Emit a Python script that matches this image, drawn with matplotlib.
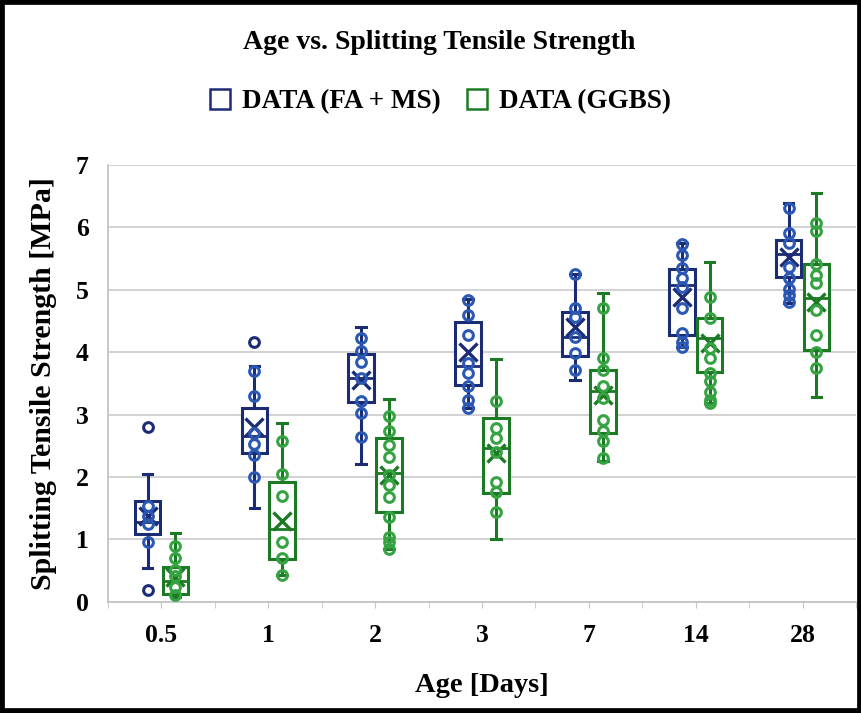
import matplotlib
matplotlib.use("Agg")
import matplotlib.pyplot as plt
from matplotlib.lines import Line2D
from matplotlib.patches import Rectangle

plt.rcParams['font.family'] = ['Liberation Serif', 'DejaVu Serif']
plt.rcParams['font.weight'] = 'bold'

ages = ['0.5', '1', '2', '3', '7', '14', '28']

# FA + MS
fa_q1 = [1.08, 2.38, 3.20, 3.48, 3.94, 4.27, 5.21]
fa_med = [1.28, 2.65, 3.59, 3.77, 4.24, 5.08, 5.57]
fa_q3 = [1.61, 3.10, 3.97, 4.49, 4.64, 5.34, 5.79]
fa_lo = [0.54, 1.50, 2.20, 3.10, 3.56, 4.09, 4.78]
fa_hi = [2.05, 3.77, 4.41, 4.85, 5.25, 5.75, 6.39]
fa_mean = [1.38, 2.80, 3.55, 4.01, 4.41, 4.89, 5.53]
fa_points = [
    [1.54, 1.38, 1.24, 0.95],
    [3.70, 3.30, 2.70, 2.52, 2.35, 2.00],
    [4.22, 4.02, 3.85, 3.59, 3.21, 3.02, 2.64],
    [4.83, 4.60, 4.28, 3.82, 3.66, 3.45, 3.23, 3.10],
    [5.25, 4.71, 4.57, 4.25, 3.99, 3.72],
    [5.73, 5.55, 5.35, 5.19, 5.05, 4.71, 4.31, 4.17, 4.09],
    [6.31, 5.91, 5.75, 5.37, 5.19, 5.02, 4.92, 4.81],
]
fa_out = [[2.80, 0.19], [4.17], [], [], [], [], []]

# GGBS
gg_q1 = [0.13, 0.68, 1.44, 1.74, 2.70, 3.68, 4.03]
gg_med = [0.33, 1.16, 2.06, 2.46, 3.37, 4.22, 4.86]
gg_q3 = [0.55, 1.92, 2.62, 2.95, 3.72, 4.55, 5.41]
gg_lo = [0.08, 0.43, 0.85, 1.00, 2.25, 3.18, 3.28]
gg_hi = [1.10, 2.86, 3.25, 3.89, 4.95, 5.45, 6.55]
gg_mean = [0.40, 1.30, 2.03, 2.38, 3.31, 4.14, 4.81]
gg_points = [
    [0.89, 0.70, 0.51, 0.41, 0.24, 0.10],
    [2.57, 2.05, 1.70, 0.95, 0.70, 0.43],
    [2.97, 2.73, 2.51, 2.32, 2.03, 1.87, 1.68, 1.36, 1.04, 0.96, 0.85],
    [3.21, 2.78, 2.62, 2.40, 1.92, 1.76, 1.44],
    [4.71, 3.91, 3.72, 3.45, 3.26, 2.92, 2.73, 2.57, 2.30],
    [4.89, 4.54, 4.06, 3.90, 3.66, 3.53, 3.36, 3.23, 3.18],
    [6.07, 5.94, 5.41, 5.24, 5.11, 4.68, 4.27, 4.00, 3.74],
]
gg_out = [[], [], [], [], [], [], []]

navy = '#1C2C74'
navy_pt = '#2A58B2'
green = '#1D7A24'
green_pt = '#36A342'


def make_stats(q1, med, q3, lo, hi, mean, out):
    stats = []
    for i in range(len(q1)):
        stats.append({'q1': q1[i], 'med': med[i], 'q3': q3[i],
                      'whislo': lo[i], 'whishi': hi[i], 'mean': mean[i],
                      'fliers': out[i]})
    return stats


fig = plt.figure(figsize=(8.62, 7.13), dpi=100)
ax = fig.add_axes([0.1253, 0.1561, 0.8677, 0.6125])

series = [
    (make_stats(fa_q1, fa_med, fa_q3, fa_lo, fa_hi, fa_mean, fa_out), fa_points, navy, navy_pt, -0.13),
    (make_stats(gg_q1, gg_med, gg_q3, gg_lo, gg_hi, gg_mean, gg_out), gg_points, green, green_pt, 0.13),
]

for stats, points, col, pcol, off in series:
    pos = [i + off for i in range(len(ages))]
    ax.bxp(stats, positions=pos, widths=0.24, patch_artist=True,
           showmeans=True, manage_ticks=False, capwidths=0.09,
           boxprops=dict(facecolor='white', edgecolor=col, linewidth=2.2),
           whiskerprops=dict(color=col, linewidth=2.2),
           capprops=dict(color=col, linewidth=2.2),
           medianprops=dict(color=col, linewidth=2.0),
           meanprops=dict(marker='x', markeredgecolor=col, markersize=13,
                          markeredgewidth=2.4),
           flierprops=dict(marker='o', markerfacecolor='none', markeredgecolor=col,
                           markersize=7, markeredgewidth=2.2),
           zorder=3)
    for i, vals in enumerate(points):
        ax.plot([pos[i]] * len(vals), vals, ls='none', marker='o', mfc='none',
                mec=pcol, ms=7, mew=2.2, zorder=4)

ax.set_xlim(-0.5, 6.5)
ax.set_ylim(0, 7)
ax.set_yticks(range(0, 8))
ax.set_xticks(range(len(ages)))
ax.set_xticklabels(ages)
ax.set_xticks([i - 0.5 for i in range(len(ages) + 1)], minor=True)
ax.yaxis.grid(True, color='#CFCFCF', linewidth=1.3, zorder=0)
ax.set_axisbelow(True)
for s in ['top', 'right']:
    ax.spines[s].set_visible(False)
for s in ['left', 'bottom']:
    ax.spines[s].set_color('#C4C4C4')
    ax.spines[s].set_linewidth(1.3)
ax.tick_params(axis='y', length=0, pad=14, labelsize=18.5)
ax.tick_params(axis='x', which='major', length=4, color='#C4C4C4', pad=12, labelsize=18.5)
ax.tick_params(axis='x', which='minor', length=4, color='#C4C4C4')

fig.text(0.51, 0.940, 'Age vs. Splitting Tensile Strength', ha='center', va='center',
         fontsize=20, fontweight='bold')
fig.text(0.05, 0.5 * (0.1561 + 0.7686), 'Splitting Tensile Strength [MPa]', rotation=90,
         ha='center', va='center', fontsize=21.5, fontweight='bold')
fig.text(0.559, 0.038, 'Age [Days]', ha='center', va='center', fontsize=20.5, fontweight='bold')

handles = [Line2D([], [], ls='none', marker='s', mfc='none', mec=navy, ms=15, mew=1.8),
           Line2D([], [], ls='none', marker='s', mfc='none', mec=green, ms=15, mew=1.8)]
fig.legend(handles, ['DATA (FA + MS)', 'DATA (GGBS)'], loc='center',
           bbox_to_anchor=(0.51, 0.857), ncol=2, frameon=False,
           prop={'size': 19.5, 'weight': 'bold'}, handlelength=0.9,
           handletextpad=0.35, columnspacing=0.9)

fig.patches.append(Rectangle((0, 0), 1, 1, transform=fig.transFigure, fill=False,
                             edgecolor='black', linewidth=7))

fig.savefig('out.png', dpi=100)
